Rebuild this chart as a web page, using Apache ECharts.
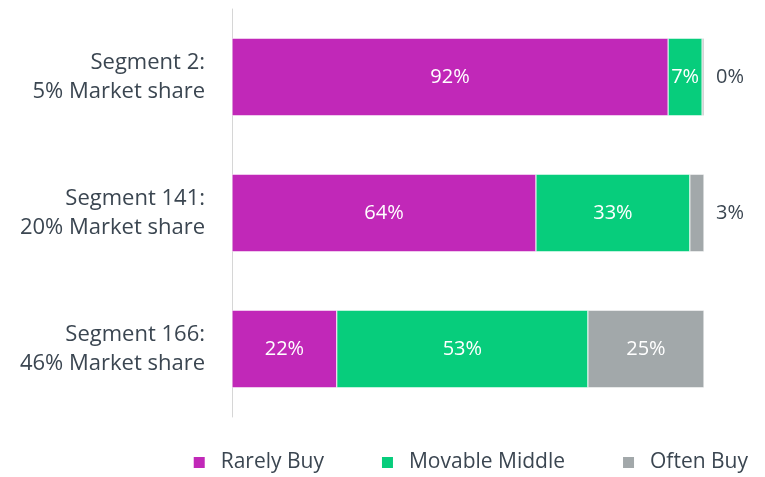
<!DOCTYPE html>
<html>
<head>
<meta charset="utf-8">
<script src="https://cdn.jsdelivr.net/npm/echarts@6/dist/echarts.min.js"></script>
<style>
  html, body { margin: 0; padding: 0; background: #fff; }
  #chart { width: 765px; height: 477px; }
</style>
</head>
<body>
<div id="chart"></div>
<script>
const categories = ["Segment 2:\n5% Market share", "Segment 141:\n20% Market share", "Segment 166:\n46% Market share"];
const seriesNames = ["Rarely Buy", "Movable Middle", "Often Buy"];
const rarelyBuy = [92.4, 64.4, 22.2];
const movableMiddle = [7.2, 32.6, 53.2];
const oftenBuy = [0.4, 3.0, 24.6];
const colors = ["#c128b8", "#07cd7c", "#a2a8aa"];

const textColor = "#3b4651";
const font = "Open Sans";

const chart = echarts.init(document.getElementById("chart"));

const pct = p => Math.round(p.value) + "%";

// small slices get their label outside the bar
const grayData = oftenBuy.map(v => v < 5
  ? { value: v, label: { position: "right", distance: 12, color: textColor } }
  : v);

const makeSeries = (name, data, i) => ({
  type: "bar",
  stack: "total",
  name: name,
  data: data,
  barWidth: "57%",
  itemStyle: { color: colors[i], borderColor: "#fff", borderWidth: 0.5 },
  label: {
    show: true,
    position: "inside",
    color: "#fff",
    fontFamily: font,
    fontSize: 20,
    formatter: pct
  },
  emphasis: { disabled: true }
});

const option = {
  animation: false,
  backgroundColor: "#fff",
  grid: { left: 232, right: 61, top: 9, bottom: 60, containLabel: false },
  legend: {
    right: 12,
    top: 447,
    itemWidth: 13,
    itemHeight: 13,
    itemGap: 56,
    icon: "rect",
    textStyle: { color: textColor, fontFamily: font, fontSize: 21, padding: [0, 0, 0, 10] },
    data: seriesNames
  },
  xAxis: {
    type: "value",
    min: 0,
    max: 100,
    show: false
  },
  yAxis: {
    type: "category",
    inverse: true,
    data: categories,
    axisTick: { show: false },
    axisLine: { lineStyle: { color: "#d6d6d6", width: 1 } },
    axisLabel: {
      color: textColor,
      fontFamily: font,
      fontSize: 22,
      lineHeight: 29,
      margin: 27,
      align: "right"
    }
  },
  series: [
    makeSeries(seriesNames[0], rarelyBuy, 0),
    makeSeries(seriesNames[1], movableMiddle, 1),
    makeSeries(seriesNames[2], grayData, 2)
  ]
};

chart.setOption(option);
</script>
</body>
</html>
